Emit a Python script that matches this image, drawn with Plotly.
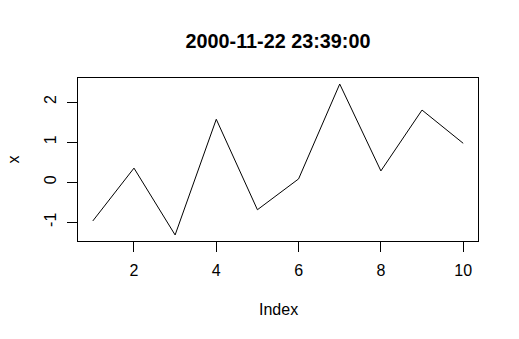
import plotly.graph_objects as go

index = [1, 2, 3, 4, 5, 6, 7, 8, 9, 10]
x_values = [-0.97, 0.35, -1.32, 1.57, -0.69, 0.08, 2.45, 0.28, 1.80, 0.97]
x_ticks = [2, 4, 6, 8, 10]
y_ticks = [-1, 0, 1, 2]
title_text = "2000-11-22 23:39:00"

FONT = "Liberation Sans, Arial, sans-serif"

fig = go.Figure()
fig.add_trace(go.Scatter(x=index, y=x_values, mode="lines",
                         line=dict(color="black", width=1), showlegend=False))

lo, hi = min(x_values), max(x_values)
pad = (hi - lo) * 0.04

axis_common = dict(showline=True, mirror=True, linecolor="black", linewidth=1,
                   ticks="outside", ticklen=10, tickwidth=1, tickcolor="black",
                   showgrid=False, zeroline=False,
                   tickfont=dict(family=FONT, size=16, color="black"))

fig.update_layout(
    width=519, height=339,
    margin=dict(l=78, r=41, t=78, b=98),
    paper_bgcolor="white", plot_bgcolor="white",
    title=dict(text="<b>" + title_text + "</b>", x=0.5, xref="paper",
               y=1 - 40.6 / 339, yref="container", yanchor="middle",
               font=dict(family=FONT, size=19.8, color="black")),
    xaxis=dict(range=[1 - 0.36, 10 + 0.36], tickvals=x_ticks,
               ticktext=[str(v) for v in x_ticks], ticklabelstandoff=5, **axis_common),
    yaxis=dict(range=[lo - pad, hi + pad], tickvals=y_ticks,
               ticktext=[str(v) for v in y_ticks], tickangle=-90, ticklabelstandoff=5,
               **axis_common),
    annotations=[
        dict(text="Index", x=0.5, xref="paper", y=-68 / 163, yref="paper",
             yanchor="middle", xanchor="center", showarrow=False,
             font=dict(family=FONT, size=16, color="black")),
        dict(text="x", x=-65 / 400, xref="paper", y=0.5, yref="paper",
             yanchor="middle", xanchor="center", showarrow=False, textangle=-90,
             font=dict(family=FONT, size=16, color="black")),
    ],
)

fig.write_html("out.html")
